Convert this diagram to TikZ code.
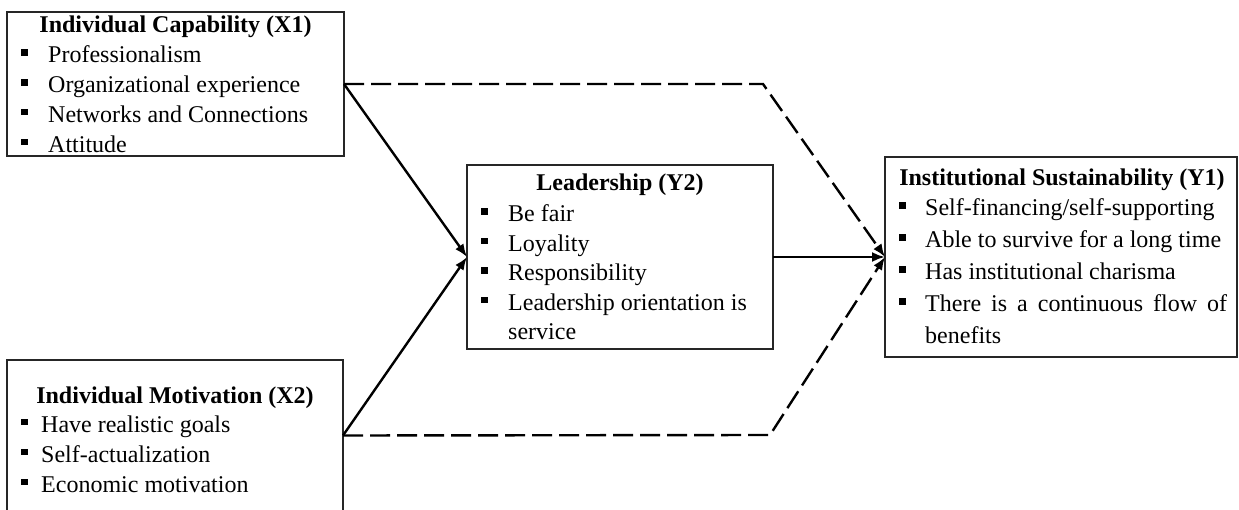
\documentclass[tikz,border=0pt]{standalone}
\usepackage{fontspec}
\setmainfont{Liberation Serif}
\usetikzlibrary{arrows.meta}

% small filled square used as list bullet
\newcommand\sqbul{\rule[7pt]{6.5pt}{6.5pt}}

\begin{document}
\begin{tikzpicture}[x=1pt,y=-1pt,
  box/.style={draw=black!85, line width=1.4pt, rectangle, inner sep=0pt, outer sep=0pt, anchor=north west},
  ln/.style={anchor=base west, inner sep=0pt, font=\fontsize{24}{29}\selectfont},
  ttl/.style={anchor=base, inner sep=0pt, font=\fontsize{24}{29}\selectfont\bfseries},
  link/.style={line width=2.4pt, -{Latex[length=13pt,width=10pt]}},
  dlink/.style={link, dash pattern=on 20pt off 7pt},
]
\useasboundingbox (0,0) rectangle (1239,510);
\clip (0,0) rectangle (1239,510);

% the four construct boxes
\node[box, minimum width=337pt, minimum height=144pt] (x1) at (7,12) {};
\node[box, minimum width=336pt, minimum height=151pt] (x2) at (7,360) {};
\node[box, minimum width=306pt, minimum height=184pt] (y2) at (467,165) {};
\node[box, minimum width=352pt, minimum height=200pt] (y1) at (885,157) {};

% Individual Capability (X1)
\node[ttl] (x1t) at (175.5,33) {Individual Capability (X1)};
\foreach \txt [count=\i] in {Professionalism, Organizational experience, Networks and Connections, Attitude}
  \node[ln] (x1-\i) at (21,{63+29.7*(\i-1)}) {\makebox[27pt][l]{\sqbul}\txt};

% Individual Motivation (X2)
\node[ttl] (x2t) at (175,403) {Individual Motivation (X2)};
\foreach \txt [count=\i] in {Have realistic goals, Self-actualization, Economic motivation}
  \node[ln] (x2-\i) at (21,{432+30*(\i-1)}) {\makebox[20pt][l]{\sqbul}\txt};

% Leadership (Y2)
\node[ttl] (y2t) at (620,191) {Leadership (Y2)};
\foreach \txt [count=\i] in {Be fair, Loyality, Responsibility, Leadership orientation is}
  \node[ln] (y2-\i) at (481,{222+29.5*(\i-1)}) {\makebox[27pt][l]{\sqbul}\txt};
\node[ln] (y2-5) at (508,340) {service};

% Institutional Sustainability (Y1)
\node[ttl] (y1t) at (1062,186) {Institutional Sustainability (Y1)};
\foreach \txt [count=\i] in {Self-financing/self-supporting, Able to survive for a long time, Has institutional charisma}
  \node[ln] (y1-\i) at (899,{216+32*(\i-1)}) {\makebox[26pt][l]{\sqbul}\txt};
\node[ln] (y1-4) at (899,312) {\makebox[26pt][l]{\sqbul}\makebox[302pt][s]{There is a continuous flow of}};
\node[ln] (y1-5) at (925,344) {benefits};

% bends of the direct (dashed) paths
\coordinate (c1) at (763,84);
\coordinate (c2) at (770,435);

% connectors
\draw[link] (x1.east) -- (y2.west);
\draw[link] (x2.east) -- (y2.west);
\draw[link] (y2.east) -- (y1.west);
\draw[dlink] (x1.east) -- (c1) -- (y1.west);
\draw[dlink] (x2.east) -- (c2) -- (y1.west);
\end{tikzpicture}
\end{document}
